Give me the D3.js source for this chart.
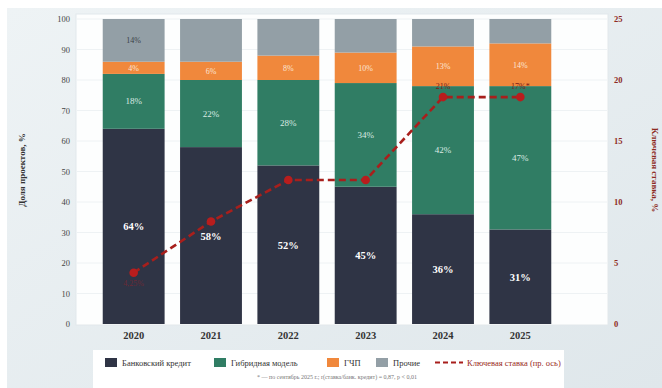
<!DOCTYPE html>
<html><head><meta charset="utf-8">
<script src="https://cdn.jsdelivr.net/npm/d3@7"></script>
<style>body{margin:0;background:#fff}svg{display:block;font-family:"Liberation Serif","DejaVu Serif",serif}</style>
</head><body><svg id="c" width="662" height="388"></svg>
<script>
const years = ["2020","2021","2022","2023","2024","2025"];
const bank = [64,58,52,45,36,31];
const hybrid = [18,22,28,34,42,47];
const ppp = [4,6,8,10,13,14];
const other = [14,14,12,11,9,8];
const keyRate = [4.2,8.4,11.8,11.8,18.6,18.6];
const keyRateLabels = ["4,25%","","","","21%","17%*"];
const otherLabels = ["14%","","","","",""];
const leftTicks = [0,10,20,30,40,50,60,70,80,90,100];
const rightTicks = [0,5,10,15,20,25];
const seriesNames = ["Банковский кредит","Гибридная модель","ГЧП","Прочие"];
const lineName = "Ключевая ставка (пр. ось)";
const footnote = "* — по сентябрь 2025 г.; r(ставка/банк. кредит) = 0,87, p < 0,01";

const colors = ["#2f3445","#307d64","#f0883c","#939fa6"];
const red = "#a81f1c";
const svg = d3.select("#c");
const defs = svg.append("defs");
const g = defs.append("linearGradient").attr("id","bg").attr("x1",0).attr("y1",0).attr("x2",1).attr("y2",1);
g.append("stop").attr("offset","0%").attr("stop-color","#eef3f5");
g.append("stop").attr("offset","100%").attr("stop-color","#dfe7eb");
svg.append("rect").attr("x",7).attr("y",8).attr("width",655).attr("height",380).attr("fill","url(#bg)");

const x = d3.scaleBand().domain(years).range([95,559]).paddingInner(0.2).paddingOuter(0.1);
const y = d3.scaleLinear().domain([0,100]).range([324,19]);
const y2 = d3.scaleLinear().domain([0,25]).range([324,19]);

svg.append("rect").attr("x",76).attr("y",14).attr("width",532).attr("height",311)
  .attr("fill","#fdfefe").attr("stroke","#e2e8eb");
svg.append("g").selectAll("line").data(leftTicks.slice(1)).join("line")
  .attr("x1",77).attr("x2",607).attr("y1",d=>y(d)).attr("y2",d=>y(d))
  .attr("stroke","#eef2f4").attr("stroke-width",1);

const rows = years.map((yr,i)=>({year:yr,bank:bank[i],hybrid:hybrid[i],ppp:ppp[i],other:other[i]}));
const keys = ["bank","hybrid","ppp","other"];
const stack = d3.stack().keys(keys)(rows);
stack.forEach((layer,li)=>{
  svg.append("g").selectAll("rect").data(layer).join("rect")
    .attr("x",d=>x(d.data.year)).attr("width",x.bandwidth())
    .attr("y",d=>y(d[1])).attr("height",d=>y(d[0])-y(d[1]))
    .attr("fill",colors[li]);
});
// segment labels
const lblStyle = [
  {fill:"#ffffff",size:10.5,weight:"bold",dy:4},
  {fill:"#dbeae3",size:9,weight:"normal",dy:3},
  {fill:"#fbe6d6",size:8,weight:"normal",dy:3},
  {fill:"#3a3f48",size:8,weight:"normal",dy:3}
];
stack.forEach((layer,li)=>{
  svg.append("g").selectAll("text").data(layer).join("text")
    .attr("x",d=>x(d.data.year)+x.bandwidth()/2)
    .attr("y",d=>(y(d[0])+y(d[1]))/2+lblStyle[li].dy)
    .attr("text-anchor","middle").attr("font-size",lblStyle[li].size)
    .attr("font-weight",lblStyle[li].weight).attr("fill",lblStyle[li].fill)
    .text((d,i)=> li===3 ? otherLabels[i] : d.data[keys[li]]+"%");
});

// axes
const la = svg.append("g").attr("transform","translate(72,0)")
  .call(d3.axisLeft(y).tickValues(leftTicks).tickSize(0).tickPadding(2));
la.select(".domain").remove();
la.selectAll("text").attr("font-family","Liberation Serif").attr("font-size",8.5).attr("fill","#444");
const ra = svg.append("g").attr("transform","translate(612,0)")
  .call(d3.axisRight(y2).tickValues(rightTicks).tickSize(0).tickPadding(2));
ra.select(".domain").remove();
ra.selectAll("text").attr("font-family","Liberation Serif").attr("font-size",8.5).attr("font-weight","bold").attr("fill","#8e2a22");
const xa = svg.append("g").attr("transform","translate(0,325)")
  .call(d3.axisBottom(x).tickSize(0).tickPadding(7));
xa.select(".domain").remove();
xa.selectAll("text").attr("font-family","Liberation Serif").attr("font-size",10.5).attr("font-weight","bold").attr("fill","#333");

svg.append("text").attr("transform","translate(25,170) rotate(-90)").attr("text-anchor","middle")
  .attr("font-size",9).attr("font-weight","bold").attr("fill","#333").text("Доля проектов, %");
svg.append("text").attr("transform","translate(652,170) rotate(90)").attr("text-anchor","middle")
  .attr("font-size",9).attr("font-weight","bold").attr("fill","#8e2a22").text("Ключевая ставка, %");

// line
const cx = d=>x(d)+x.bandwidth()/2;
const line = d3.line().x((d,i)=>cx(years[i])).y(d=>y2(d));
svg.append("path").datum(keyRate).attr("d",line).attr("fill","none")
  .attr("stroke",red).attr("stroke-width",2.6).attr("stroke-dasharray","7,4");
svg.append("g").selectAll("circle").data(keyRate).join("circle")
  .attr("cx",(d,i)=>cx(years[i])).attr("cy",d=>y2(d)).attr("r",4.3).attr("fill","#b81d1d");
svg.append("g").selectAll("text").data(keyRate).join("text")
  .attr("x",(d,i)=>cx(years[i])).attr("y",(d,i)=> i===0 ? y2(d)+13 : y2(d)-8)
  .attr("text-anchor","middle").attr("font-size",8)
  .attr("fill",(d,i)=> i===0 ? "#6b2a35" : "#7a1c18")
  .text((d,i)=>keyRateLabels[i]);

// legend
svg.append("rect").attr("x",93).attr("y",350).attr("width",471).attr("height",40).attr("fill","#fff");
const legX = [105,214,327,376];
seriesNames.forEach((n,i)=>{
  svg.append("rect").attr("x",legX[i]).attr("y",358).attr("width",12).attr("height",9).attr("fill",colors[i]);
  svg.append("text").attr("x",legX[i]+17).attr("y",366).attr("font-size",8.5).attr("fill","#333").text(n);
});
svg.append("line").attr("x1",435).attr("x2",463).attr("y1",362.5).attr("y2",362.5)
  .attr("stroke",red).attr("stroke-width",2.2).attr("stroke-dasharray","5,3");
svg.append("text").attr("x",467).attr("y",366).attr("font-size",8.5).attr("fill","#9a2a22").text(lineName);
svg.append("text").attr("x",337).attr("y",379).attr("text-anchor","middle").attr("font-size",6).attr("fill","#777").text(footnote);
</script></body></html>
